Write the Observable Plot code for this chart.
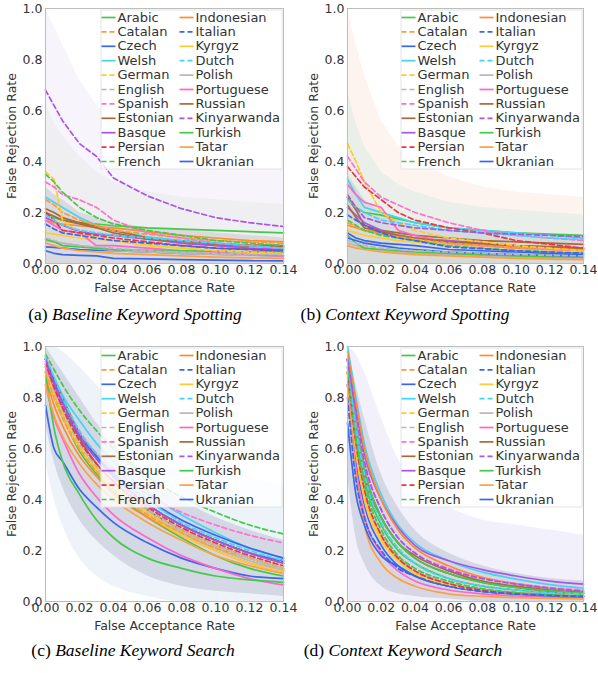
<!DOCTYPE html>
<html>
<head>
<meta charset="utf-8">
<script src="https://cdn.jsdelivr.net/npm/d3@7"></script>
<script src="https://cdn.jsdelivr.net/npm/@observablehq/plot@0.6"></script>
<style>
  html, body { margin: 0; padding: 0; background: #fff; }
  #fig { position: relative; width: 598px; height: 673px; overflow: hidden; }
  .panel { position: absolute; }
  .cap { position: absolute; font-family: "Liberation Serif", "Times New Roman", serif; font-size: 17.5px; color: #000; white-space: nowrap; transform: translateX(-50%); }
  .cap i { font-style: italic; }
</style>
</head>
<body>
<div id="fig"></div>
<script>
// ---------- data ----------
const fars = [0, 0.005, 0.01, 0.02, 0.03, 0.04, 0.06, 0.08, 0.10, 0.12, 0.14];
const languages = ["Arabic","Catalan","Czech","Welsh","German","English","Spanish","Estonian","Basque","Persian","French",
                   "Indonesian","Italian","Kyrgyz","Dutch","Polish","Portuguese","Russian","Kinyarwanda","Turkish","Tatar","Ukranian"];
const xTicks = [0, 0.02, 0.04, 0.06, 0.08, 0.10, 0.12, 0.14];
const yTicks = [0, 0.2, 0.4, 0.6, 0.8, 1.0];

// (a) Baseline Keyword Spotting  (rows in language order, values at fars)
const frrBaselineSpotting = [
  [0.20, 0.18, 0.17, 0.16, 0.155, 0.148, 0.14, 0.135, 0.13, 0.125, 0.12],
  [0.25, 0.23, 0.20, 0.17, 0.15, 0.13, 0.115, 0.10, 0.09, 0.085, 0.08],
  [0.065, 0.063, 0.06, 0.055, 0.052, 0.05, 0.045, 0.04, 0.037, 0.033, 0.03],
  [0.26, 0.24, 0.22, 0.18, 0.15, 0.13, 0.105, 0.09, 0.08, 0.07, 0.06],
  [0.36, 0.33, 0.17, 0.12, 0.10, 0.09, 0.075, 0.06, 0.05, 0.045, 0.04],
  [0.10, 0.09, 0.08, 0.07, 0.065, 0.06, 0.05, 0.045, 0.04, 0.037, 0.035],
  [0.32, 0.30, 0.27, 0.25, 0.22, 0.17, 0.12, 0.10, 0.08, 0.07, 0.06],
  [0.215, 0.20, 0.18, 0.16, 0.145, 0.13, 0.10, 0.08, 0.072, 0.068, 0.065],
  [0.18, 0.165, 0.15, 0.125, 0.115, 0.11, 0.095, 0.08, 0.07, 0.06, 0.055],
  [0.20, 0.17, 0.13, 0.12, 0.11, 0.10, 0.085, 0.07, 0.06, 0.055, 0.05],
  [0.35, 0.32, 0.28, 0.22, 0.18, 0.155, 0.13, 0.11, 0.09, 0.08, 0.07],
  [0.17, 0.16, 0.155, 0.148, 0.143, 0.14, 0.125, 0.11, 0.10, 0.09, 0.085],
  [0.155, 0.135, 0.12, 0.11, 0.10, 0.09, 0.08, 0.07, 0.06, 0.055, 0.05],
  [0.12, 0.115, 0.11, 0.10, 0.095, 0.09, 0.07, 0.06, 0.05, 0.045, 0.04],
  [0.19, 0.17, 0.15, 0.13, 0.12, 0.11, 0.10, 0.09, 0.08, 0.07, 0.06],
  [0.09, 0.085, 0.08, 0.07, 0.06, 0.05, 0.045, 0.04, 0.035, 0.032, 0.03],
  [0.17, 0.15, 0.13, 0.12, 0.07, 0.07, 0.06, 0.05, 0.045, 0.035, 0.03],
  [0.20, 0.185, 0.17, 0.155, 0.14, 0.12, 0.095, 0.088, 0.078, 0.072, 0.07],
  [0.68, 0.62, 0.56, 0.47, 0.42, 0.335, 0.265, 0.215, 0.18, 0.16, 0.145],
  [0.095, 0.085, 0.07, 0.065, 0.06, 0.055, 0.052, 0.05, 0.048, 0.046, 0.045],
  [0.08, 0.07, 0.06, 0.05, 0.045, 0.04, 0.035, 0.03, 0.025, 0.022, 0.02],
  [0.05, 0.04, 0.035, 0.032, 0.03, 0.02, 0.018, 0.015, 0.013, 0.011, 0.01]
];
// (b) Context Keyword Spotting
const frrContextSpotting = [
  [0.26, 0.22, 0.20, 0.19, 0.175, 0.16, 0.14, 0.13, 0.12, 0.115, 0.11],
  [0.16, 0.145, 0.13, 0.115, 0.105, 0.095, 0.08, 0.07, 0.06, 0.055, 0.05],
  [0.12, 0.10, 0.09, 0.08, 0.075, 0.07, 0.055, 0.05, 0.045, 0.04, 0.035],
  [0.33, 0.27, 0.22, 0.20, 0.18, 0.16, 0.14, 0.13, 0.12, 0.11, 0.10],
  [0.47, 0.40, 0.32, 0.20, 0.16, 0.13, 0.10, 0.085, 0.07, 0.06, 0.05],
  [0.09, 0.08, 0.07, 0.06, 0.055, 0.05, 0.045, 0.04, 0.035, 0.032, 0.03],
  [0.42, 0.37, 0.32, 0.26, 0.23, 0.20, 0.16, 0.13, 0.11, 0.10, 0.09],
  [0.26, 0.21, 0.15, 0.13, 0.12, 0.11, 0.10, 0.09, 0.085, 0.08, 0.075],
  [0.22, 0.19, 0.16, 0.13, 0.11, 0.10, 0.09, 0.08, 0.07, 0.065, 0.06],
  [0.38, 0.34, 0.30, 0.25, 0.20, 0.17, 0.14, 0.12, 0.09, 0.075, 0.06],
  [0.17, 0.15, 0.13, 0.11, 0.10, 0.09, 0.07, 0.06, 0.05, 0.045, 0.04],
  [0.15, 0.14, 0.13, 0.12, 0.11, 0.10, 0.08, 0.072, 0.065, 0.06, 0.055],
  [0.19, 0.17, 0.15, 0.12, 0.10, 0.09, 0.065, 0.058, 0.05, 0.045, 0.04],
  [0.13, 0.12, 0.11, 0.10, 0.09, 0.085, 0.075, 0.068, 0.06, 0.055, 0.05],
  [0.25, 0.22, 0.20, 0.17, 0.16, 0.15, 0.13, 0.12, 0.11, 0.10, 0.095],
  [0.08, 0.07, 0.06, 0.05, 0.045, 0.04, 0.035, 0.03, 0.025, 0.022, 0.02],
  [0.31, 0.27, 0.24, 0.22, 0.13, 0.11, 0.08, 0.07, 0.06, 0.055, 0.05],
  [0.23, 0.18, 0.14, 0.125, 0.11, 0.10, 0.085, 0.078, 0.07, 0.065, 0.06],
  [0.27, 0.22, 0.18, 0.16, 0.15, 0.14, 0.13, 0.12, 0.115, 0.11, 0.105],
  [0.11, 0.08, 0.06, 0.055, 0.05, 0.045, 0.04, 0.035, 0.03, 0.027, 0.025],
  [0.07, 0.06, 0.055, 0.045, 0.04, 0.035, 0.03, 0.025, 0.02, 0.017, 0.015],
  [0.10, 0.09, 0.08, 0.07, 0.06, 0.055, 0.045, 0.04, 0.035, 0.032, 0.03]
];
// (c) Baseline Keyword Search
const frrBaselineSearch = [
  [0.93, 0.82, 0.73, 0.59, 0.50, 0.43, 0.33, 0.25, 0.18, 0.13, 0.10],
  [0.90, 0.80, 0.72, 0.60, 0.51, 0.44, 0.34, 0.27, 0.21, 0.17, 0.13],
  [0.77, 0.60, 0.55, 0.44, 0.37, 0.31, 0.23, 0.17, 0.13, 0.10, 0.09],
  [0.95, 0.88, 0.81, 0.71, 0.62, 0.55, 0.43, 0.34, 0.27, 0.21, 0.17],
  [0.92, 0.82, 0.74, 0.61, 0.52, 0.45, 0.35, 0.28, 0.22, 0.17, 0.13],
  [0.93, 0.83, 0.75, 0.62, 0.53, 0.46, 0.36, 0.28, 0.22, 0.17, 0.13],
  [0.92, 0.84, 0.77, 0.66, 0.58, 0.52, 0.42, 0.35, 0.30, 0.26, 0.23],
  [0.95, 0.85, 0.77, 0.64, 0.54, 0.47, 0.36, 0.28, 0.22, 0.17, 0.13],
  [0.95, 0.86, 0.78, 0.65, 0.56, 0.49, 0.38, 0.30, 0.24, 0.19, 0.16],
  [0.94, 0.84, 0.76, 0.63, 0.54, 0.47, 0.37, 0.29, 0.23, 0.18, 0.14],
  [0.97, 0.91, 0.85, 0.75, 0.67, 0.60, 0.49, 0.41, 0.35, 0.30, 0.265],
  [0.88, 0.77, 0.69, 0.57, 0.49, 0.42, 0.33, 0.26, 0.20, 0.15, 0.12],
  [0.95, 0.86, 0.78, 0.65, 0.56, 0.49, 0.38, 0.30, 0.24, 0.19, 0.155],
  [0.90, 0.80, 0.72, 0.60, 0.51, 0.44, 0.34, 0.26, 0.20, 0.15, 0.12],
  [0.96, 0.88, 0.80, 0.67, 0.58, 0.51, 0.40, 0.31, 0.25, 0.20, 0.16],
  [0.92, 0.82, 0.74, 0.61, 0.52, 0.45, 0.35, 0.27, 0.21, 0.16, 0.125],
  [0.85, 0.72, 0.64, 0.50, 0.41, 0.34, 0.25, 0.18, 0.13, 0.09, 0.065],
  [0.96, 0.87, 0.80, 0.66, 0.57, 0.49, 0.38, 0.30, 0.24, 0.19, 0.15],
  [0.95, 0.86, 0.78, 0.65, 0.56, 0.49, 0.38, 0.30, 0.24, 0.19, 0.15],
  [0.90, 0.68, 0.55, 0.42, 0.32, 0.25, 0.17, 0.13, 0.10, 0.085, 0.075],
  [0.85, 0.73, 0.65, 0.54, 0.46, 0.40, 0.31, 0.24, 0.18, 0.14, 0.11],
  [0.93, 0.85, 0.78, 0.65, 0.57, 0.50, 0.40, 0.32, 0.26, 0.21, 0.17]
];
// (d) Context Keyword Search
const frrContextSearch = [
  [0.95, 0.66, 0.48, 0.30, 0.20, 0.15, 0.09, 0.06, 0.045, 0.035, 0.03],
  [0.90, 0.60, 0.42, 0.26, 0.17, 0.12, 0.07, 0.045, 0.035, 0.028, 0.022],
  [0.85, 0.55, 0.38, 0.22, 0.14, 0.10, 0.06, 0.04, 0.03, 0.025, 0.02],
  [1.00, 0.80, 0.62, 0.42, 0.30, 0.23, 0.16, 0.115, 0.088, 0.066, 0.052],
  [0.90, 0.60, 0.42, 0.25, 0.16, 0.11, 0.065, 0.042, 0.032, 0.025, 0.02],
  [0.92, 0.62, 0.45, 0.28, 0.18, 0.13, 0.075, 0.05, 0.035, 0.028, 0.022],
  [0.95, 0.72, 0.55, 0.36, 0.25, 0.19, 0.13, 0.09, 0.07, 0.055, 0.045],
  [0.95, 0.70, 0.52, 0.33, 0.23, 0.17, 0.11, 0.075, 0.055, 0.04, 0.032],
  [0.95, 0.76, 0.58, 0.40, 0.29, 0.22, 0.16, 0.125, 0.10, 0.08, 0.068],
  [0.90, 0.62, 0.44, 0.26, 0.17, 0.12, 0.07, 0.045, 0.032, 0.025, 0.02],
  [0.92, 0.64, 0.46, 0.28, 0.18, 0.13, 0.08, 0.05, 0.035, 0.027, 0.02],
  [0.98, 0.78, 0.60, 0.40, 0.28, 0.21, 0.14, 0.095, 0.07, 0.052, 0.04],
  [0.80, 0.48, 0.33, 0.20, 0.13, 0.10, 0.06, 0.04, 0.03, 0.024, 0.02],
  [0.88, 0.58, 0.40, 0.24, 0.16, 0.11, 0.065, 0.045, 0.033, 0.026, 0.02],
  [0.95, 0.68, 0.50, 0.31, 0.21, 0.15, 0.09, 0.06, 0.045, 0.035, 0.03],
  [0.90, 0.60, 0.43, 0.26, 0.17, 0.12, 0.07, 0.045, 0.033, 0.026, 0.02],
  [0.85, 0.52, 0.34, 0.19, 0.12, 0.08, 0.045, 0.03, 0.022, 0.016, 0.012],
  [0.95, 0.70, 0.50, 0.33, 0.23, 0.18, 0.12, 0.08, 0.06, 0.045, 0.035],
  [0.95, 0.74, 0.55, 0.36, 0.25, 0.19, 0.125, 0.09, 0.068, 0.052, 0.04],
  [0.95, 0.70, 0.52, 0.33, 0.23, 0.17, 0.11, 0.075, 0.055, 0.042, 0.033],
  [0.85, 0.50, 0.30, 0.15, 0.09, 0.06, 0.03, 0.02, 0.015, 0.012, 0.01],
  [0.70, 0.42, 0.30, 0.18, 0.14, 0.10, 0.06, 0.04, 0.03, 0.022, 0.018]
];

// faint per-keyword haze, summarised as envelopes (upper / lower) at fars
const hazeA_hi = [[1.0, 0.93, 0.86, 0.72, 0.62, 0.55, 0.46, 0.41, 0.39, 0.38, 0.37],
                  [0.62, 0.55, 0.50, 0.42, 0.36, 0.32, 0.28, 0.26, 0.25, 0.24, 0.23],
                  [0.30, 0.27, 0.25, 0.20, 0.18, 0.16, 0.14, 0.13, 0.12, 0.11, 0.10]];
const hazeB_hi = [[1.0, 0.86, 0.74, 0.56, 0.46, 0.40, 0.34, 0.30, 0.28, 0.27, 0.26],
                  [0.68, 0.55, 0.46, 0.36, 0.31, 0.28, 0.24, 0.22, 0.21, 0.20, 0.19],
                  [0.35, 0.30, 0.25, 0.20, 0.17, 0.15, 0.13, 0.12, 0.11, 0.10, 0.10]];
const hazeC_hi = [[1.0, 1.0, 0.98, 0.92, 0.85, 0.78, 0.68, 0.60, 0.54, 0.49, 0.45],
                  [1.0, 0.95, 0.90, 0.80, 0.70, 0.62, 0.50, 0.40, 0.33, 0.28, 0.24]];
const hazeC_lo = [[0.55, 0.40, 0.30, 0.17, 0.10, 0.06, 0.02, 0, 0, 0, 0],
                  [0.70, 0.55, 0.45, 0.32, 0.24, 0.18, 0.10, 0.06, 0.04, 0.03, 0.02]];
const hazeD_hi = [[1.0, 0.97, 0.90, 0.72, 0.56, 0.46, 0.37, 0.32, 0.30, 0.28, 0.26],
                  [1.0, 0.85, 0.72, 0.50, 0.37, 0.28, 0.19, 0.14, 0.11, 0.09, 0.08]];
const hazeD_lo = [[0, 0, 0, 0, 0, 0, 0, 0, 0, 0, 0],
                  [0.50, 0.25, 0.15, 0.06, 0.03, 0.02, 0.01, 0, 0, 0, 0]];

// ---------- styles ----------
const colors = ["#44c94a","#ff9a3c","#3a66ee","#44d4f4","#ffcb24","#b8b8b8","#ff70cf","#a86a3a","#a855e8","#ee3344","#44c94a",
                "#ff8c2a","#3a66ee","#ffcb33","#44d4f4","#b8b8b8","#ff66cc","#a86a3a","#a855e8","#44c94a","#ffa040","#3a66ee"];
const dashedSet = new Set(["Catalan","German","English","Spanish","Persian","French","Italian","Dutch","Kinyarwanda"]);

function panel(frr, hazeHi, hazeLo, hazeColors, curve, ml, mr) {
  const W = 299, H = 300, mt = 8, mb = 37;
  const fw = W - ml - mr, fh = H - mt - mb;
  const fx = off => 0.14 - off * 0.14 / fw;   // pixels from frame right
  const fy = off => 1 - off / fh;             // pixels from frame top
  const rows = [];
  languages.forEach((lang, i) => fars.forEach((x, j) => rows.push({lang, x, y: frr[i][j], dashed: dashedSet.has(lang)})));
  const leg = languages.map((lang, i) => ({lang, col: i < 11 ? 0 : 1, row: i % 11, dashed: dashedSet.has(lang)}));
  const ly = d => fy(9 + d.row * 14.4);
  const hazeMarks = hazeHi.map((hi, k) => Plot.areaY(fars.map((x, j) => ({x, lo: hazeLo ? hazeLo[k][j] : 0, hi: hi[j]})),
      {x: "x", y1: "lo", y2: "hi", fill: hazeColors[k][0], fillOpacity: hazeColors[k][1], curve}));
  return Plot.plot({
    width: W, height: H, marginLeft: ml, marginRight: mr, marginTop: mt, marginBottom: mb,
    style: {fontFamily: "DejaVu Sans", fontSize: "13px", color: "#333", background: "transparent"},
    x: {domain: [0, 0.14]},
    y: {domain: [0, 1]},
    color: {domain: languages, range: colors},
    marks: [
      ...hazeMarks,
      Plot.line(rows.filter(d => !d.dashed), {x: "x", y: "y", z: "lang", stroke: "lang", strokeWidth: 1.7, curve}),
      Plot.line(rows.filter(d => d.dashed), {x: "x", y: "y", z: "lang", stroke: "lang", strokeWidth: 1.7, strokeDasharray: "5,3", curve}),
      Plot.frame({stroke: "#bdbdbd"}),
      Plot.rect([0], {x1: fx(182), x2: fx(1), y1: fy(161), y2: fy(2), fill: "white", fillOpacity: 0.82, stroke: "#e4e4e4"}),
      Plot.link(leg.filter(d => !d.dashed), {x1: d => fx(d.col ? 104 : 182), x2: d => fx(d.col ? 90 : 168), y1: ly, y2: ly, stroke: "lang", strokeWidth: 1.7}),
      Plot.link(leg.filter(d => d.dashed), {x1: d => fx(d.col ? 104 : 182), x2: d => fx(d.col ? 90 : 168), y1: ly, y2: ly, stroke: "lang", strokeWidth: 1.7, strokeDasharray: "5,3"}),
      Plot.text(leg, {x: d => fx(d.col ? 88 : 166), y: ly, text: "lang", textAnchor: "start", fill: "#333", fontSize: 13, fontFamily: "DejaVu Sans"}),
      Plot.axisX({ticks: xTicks, tickFormat: d3.format(".2f"), tickSize: 0, tickPadding: 2, label: "False Acceptance Rate",
                  labelAnchor: "center", labelArrow: "none", labelOffset: 28, fill: "#333", fontSize: 12.5}),
      Plot.axisY({ticks: yTicks, tickFormat: d3.format(".1f"), tickSize: 0, tickPadding: 3, label: "False Rejection Rate",
                  labelAnchor: "center", labelArrow: "none", labelOffset: 38, fill: "#333", fontSize: 12.5})
    ]
  });
}

const fig = document.getElementById("fig");
function place(el, left, top) { el.classList.add("panel"); el.style.left = left + "px"; el.style.top = top + "px"; fig.appendChild(el); }
function caption(letter, title, cx, top) {
  const d = document.createElement("div");
  d.className = "cap";
  d.innerHTML = "(" + letter + ") <i>" + title + "</i>";
  d.style.left = cx + "px"; d.style.top = top + "px";
  fig.appendChild(d);
}

const hazeColA = [["#dccbf0", 0.22], ["#d6dccb", 0.25], ["#a9a9b4", 0.3]];
const hazeColB = [["#f4cdb8", 0.22], ["#bfe6dc", 0.3], ["#a9a9b4", 0.3]];
const hazeColC = [["#cfe0ee", 0.38], ["#b3b8c9", 0.45]];
const hazeColD = [["#d8d0f0", 0.32], ["#b3b8cc", 0.45]];

place(panel(frrBaselineSpotting, hazeA_hi, null, hazeColA, "linear", 45, 16), 0, 0);
place(panel(frrContextSpotting, hazeB_hi, null, hazeColB, "linear", 48, 15), 299, 0);
place(panel(frrBaselineSearch, hazeC_hi, hazeC_lo, hazeColC, "monotone-x", 45, 16), 0, 338);
place(panel(frrContextSearch, hazeD_hi, hazeD_lo, hazeColD, "monotone-x", 48, 15), 299, 338);

caption("a", "Baseline Keyword Spotting", 135, 304);
caption("b", "Context Keyword Spotting", 405, 304);
caption("c", "Baseline Keyword Search", 133, 640);
caption("d", "Context Keyword Search", 403, 640);
</script>
</body>
</html>
